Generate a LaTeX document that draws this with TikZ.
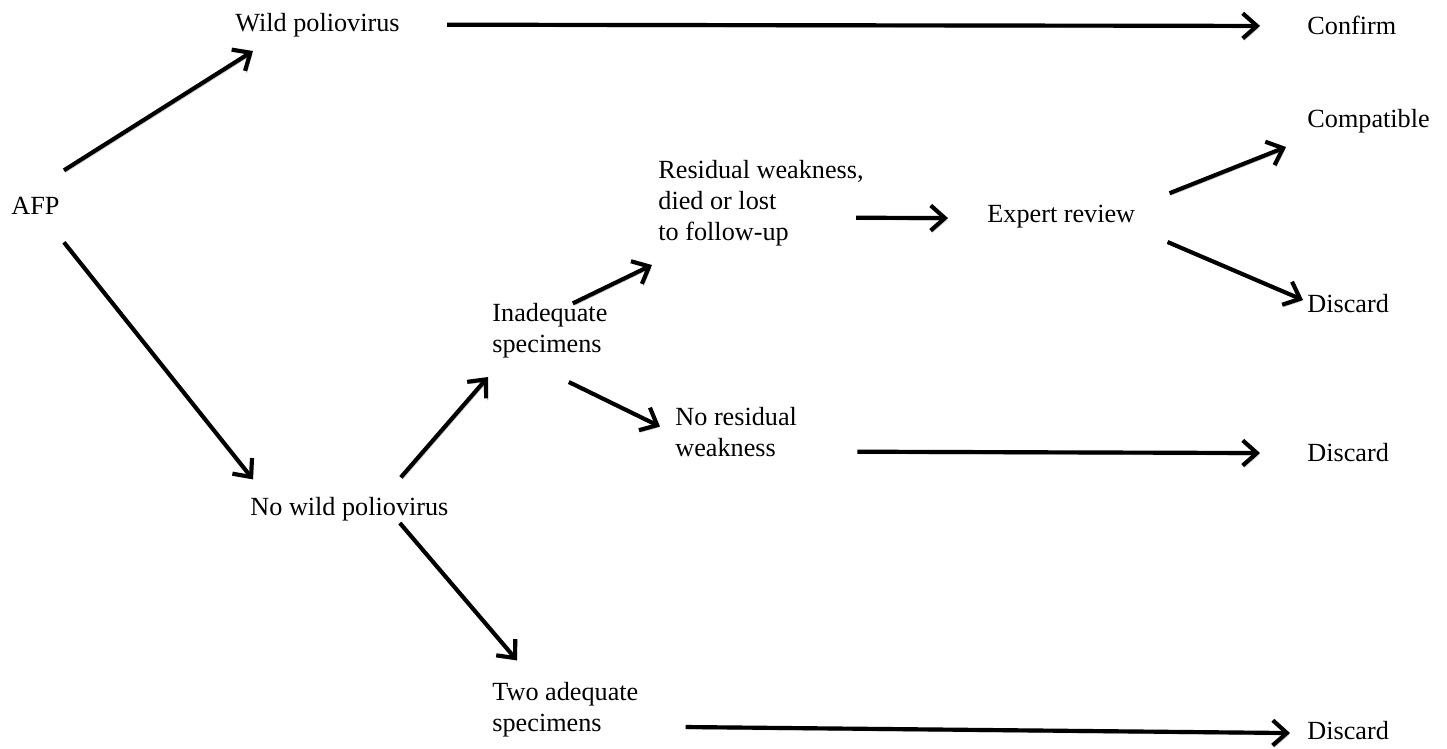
\documentclass[tikz,border=0pt]{standalone}
\usepackage{fontspec}
\setmainfont{Liberation Serif}
\usepackage{tikz}
\usetikzlibrary{arrows.meta}
\usetikzlibrary{calc}

\tikzset{
  lbl/.style={anchor=base west, inner sep=0pt, align=left,
    font=\fontsize{12}{14.2}\selectfont},
  flow/.style={line width=1.9pt, -{Straight Barb[length=6.5pt,width=11.5pt]},
    preaction={draw=black!22, transform canvas={shift={(0.7pt,-0.9pt)}}}},
}

\begin{document}
\begin{tikzpicture}[x=0.458pt, y=-0.458pt]

      \useasboundingbox (0,0) rectangle (1447,749);

      \node[lbl] (afp) at (11,215) {AFP};
      \node[lbl] (wild) at (235,32) {Wild poliovirus};
      \node[lbl] (nowild) at (250,516) {No wild poliovirus};
      \node[lbl] (inadeq) at (492,353) {Inadequate\\specimens};
      \node[lbl] (twoadeq) at (492,732) {Two adequate\\specimens};
      \node[lbl] (resid) at (658,241) {Residual weakness,\\died or lost\\to follow-up};
      \node[lbl] (nores) at (675,457) {No residual\\weakness};
      \node[lbl] (expert) at (987,223) {Expert review};
      \node[lbl] (confirm) at (1307,35) {Confirm};
      \node[lbl] (compat) at (1307,128) {Compatible};
      \node[lbl] (discA) at (1307,313) {Discard};
      \node[lbl] (discB) at (1307,462) {Discard};
      \node[lbl] (discC) at (1307,740) {Discard};

      \draw[flow] ([shift={(4,-36)}]afp.east) -- ([shift={(18,13)}]wild.south west);
      \draw[flow] ([shift={(4,36)}]afp.east) -- ([shift={(3,-18)}]nowild.north west);
      \draw[flow] ([shift={(47,-1)}]wild.east) -- ([shift={(-47,0)}]confirm.west);

      \draw[flow] ([shift={(-48,-20)}]nowild.north east) -- ([shift={(-4,18)}]inadeq.south west);
      \draw[flow] ([shift={(-49,1)}]nowild.south east) -- ([shift={(25,-22)}]twoadeq.north west);

      \draw[flow] ([shift={(-35,0)}]inadeq.north east) -- ([shift={(-6,18)}]resid.south west);
      \draw[flow] ([shift={(-39,23)}]inadeq.south east) -- ([shift={(-15,-6)}]nores.west);
      \draw[flow] ([shift={(-8,14)}]resid.east) -- ([shift={(-39,1)}]expert.west);

      \draw[flow] ([shift={(34,-12)}]expert.north east) -- ([shift={(-21,13)}]compat.south west);
      \draw[flow] ([shift={(32,13)}]expert.south east) -- ([shift={(-4,-4)}]discA.west);
      \draw[flow] ([shift={(60,-6)}]nores.south east) -- ([shift={(-47,0)}]discB.west);
      \draw[flow] ([shift={(47,-11)}]twoadeq.south east) -- ([shift={(-17,2)}]discC.west);

\end{tikzpicture}
\end{document}
